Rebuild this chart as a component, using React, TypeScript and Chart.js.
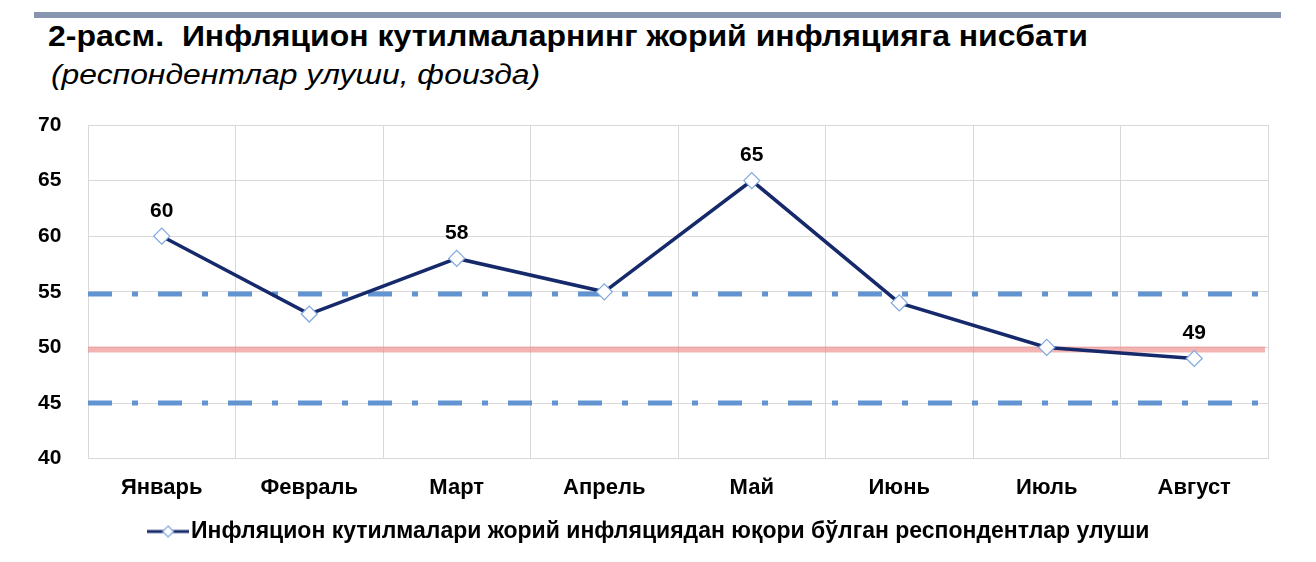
import { Chart, registerables } from "chart.js";
import { useEffect, useRef } from "react";

Chart.register(...registerables);

Chart.defaults.font.family = "'Liberation Sans', Arial, sans-serif";

const months = ["Январь", "Февраль", "Март", "Апрель", "Май", "Июнь", "Июль", "Август"];
const shareAbove = [60, 53, 58, 55, 65, 54, 50, 49];
const labeledIdx = [0, 2, 4, 7];
const yTicks = [40, 45, 50, 55, 60, 65, 70];
const bandLevels = [54.8, 45];
const targetLevel = 49.8;

const seriesName =
  "Инфляцион кутилмалари жорий инфляциядан юқори бўлган респондентлар улуши";

const NAVY = "#15296b";
const MARKER = "#7ea7dc";

// legend swatch: short line with the diamond in the middle
function legendSwatch() {
  const c = document.createElement("canvas");
  c.width = 42;
  c.height = 14;
  const ctx = c.getContext("2d")!;
  ctx.strokeStyle = NAVY;
  ctx.lineWidth = 3;
  ctx.beginPath();
  ctx.moveTo(0, 7);
  ctx.lineTo(42, 7);
  ctx.stroke();
  ctx.fillStyle = "#fff";
  ctx.strokeStyle = MARKER;
  ctx.lineWidth = 1.2;
  ctx.beginPath();
  ctx.moveTo(21, 1.5);
  ctx.lineTo(26.5, 7);
  ctx.lineTo(21, 12.5);
  ctx.lineTo(15.5, 7);
  ctx.closePath();
  ctx.fill();
  ctx.stroke();
  return c;
}

const refLines = {
  id: "refLines",
  beforeDatasetsDraw(chart: Chart) {
    const { ctx, chartArea } = chart;
    const y = chart.scales.y;
    ctx.save();
    // target line
    ctx.strokeStyle = "rgba(240, 140, 140, 0.65)";
    ctx.lineWidth = 6;
    ctx.beginPath();
    const ty = y.getPixelForValue(targetLevel);
    ctx.moveTo(chartArea.left, ty);
    ctx.lineTo(chartArea.right - 3, ty);
    ctx.stroke();
    // band lines, dash-dot
    ctx.strokeStyle = "#6294d2";
    ctx.lineWidth = 5;
    ctx.setLineDash([24, 20, 6, 20]);
    for (const v of bandLevels) {
      const py = y.getPixelForValue(v);
      ctx.beginPath();
      ctx.moveTo(chartArea.left, py);
      ctx.lineTo(chartArea.right, py);
      ctx.stroke();
    }
    ctx.restore();
  },
};

const pointLabels = {
  id: "pointLabels",
  afterDatasetsDraw(chart: Chart) {
    const { ctx } = chart;
    const meta = chart.getDatasetMeta(0);
    ctx.save();
    ctx.font = "bold 21px 'Liberation Sans', Arial, sans-serif";
    ctx.fillStyle = "#000";
    ctx.textAlign = "center";
    ctx.textBaseline = "middle";
    for (const i of labeledIdx) {
      const pt = meta.data[i];
      ctx.fillText(String(shareAbove[i]), pt.x, pt.y - 25);
    }
    ctx.restore();
  },
};

function LineChart() {
  const canvasRef = useRef<HTMLCanvasElement>(null);
  const chartRef = useRef<Chart | null>(null);

  useEffect(() => {
    if (!canvasRef.current) return;
    const swatch = legendSwatch();

    chartRef.current = new Chart(canvasRef.current, {
      type: "line",
      data: {
        labels: months,
        datasets: [
          {
            label: seriesName,
            data: shareAbove,
            borderColor: NAVY,
            borderWidth: 3.5,
            tension: 0,
            pointStyle: "rectRot",
            pointRadius: 8,
            pointBackgroundColor: "#fff",
            pointBorderColor: MARKER,
            pointBorderWidth: 1.2,
          },
        ],
      },
      options: {
        animation: false,
        responsive: true,
        maintainAspectRatio: false,
        layout: {
          padding: { left: 38, right: 48, top: 25, bottom: 9 },
        },
        plugins: {
          tooltip: { enabled: false },
          legend: {
            position: "bottom",
            labels: {
              usePointStyle: true,
              pointStyle: swatch,
              color: "#000",
              font: { size: 23, weight: "bold" },
              padding: 3,
              generateLabels: (chart) => [
                {
                  text: seriesName,
                  pointStyle: swatch,
                  fillStyle: "#fff",
                  strokeStyle: NAVY,
                  lineWidth: 0,
                  datasetIndex: 0,
                  hidden: !chart.isDatasetVisible(0),
                },
              ],
            },
          },
        },
        scales: {
          x: {
            offset: true,
            grid: { color: "#d9d9d9", drawTicks: false, offset: true },
            border: { color: "#d9d9d9" },
            ticks: {
              color: "#000",
              font: { size: 22, weight: "bold" },
              padding: 16,
              maxRotation: 0,
            },
          },
          y: {
            min: 40,
            max: 70,
            afterBuildTicks: (scale) => {
              scale.ticks = yTicks.map((v) => ({ value: v }));
            },
            afterFit: (scale) => {
              scale.width = 50;
            },
            grid: { color: "#d9d9d9", drawTicks: false },
            border: { color: "#d9d9d9" },
            ticks: {
              color: "#000",
              font: { size: 21, weight: "bold" },
              crossAlign: "far",
              padding: 0,
            },
          },
        },
      },
      plugins: [refLines, pointLabels],
    });

    return () => chartRef.current?.destroy();
  }, [canvasRef]);

  return <canvas ref={canvasRef}></canvas>;
}

export default function App() {
  return (
    <div
      style={{
        position: "absolute",
        left: 0,
        top: 0,
        width: 1316,
        height: 562,
        background: "#fff",
        fontFamily: "'Liberation Sans', Arial, sans-serif",
      }}
    >
      <div
        style={{
          position: "absolute",
          left: 34,
          top: 12,
          width: 1247,
          height: 6,
          background: "#8795b0",
        }}
      />
      <div
        style={{
          position: "absolute",
          left: 48,
          top: 20,
          fontSize: 29,
          fontWeight: "bold",
          color: "#000",
          whiteSpace: "pre",
          lineHeight: "32px",
          transform: "scaleX(1.103)",
          transformOrigin: "left top",
        }}
      >
        {"2-расм.  Инфляцион кутилмаларнинг жорий инфляцияга нисбати"}
      </div>
      <div
        style={{
          position: "absolute",
          left: 51,
          top: 59,
          fontSize: 27,
          fontStyle: "italic",
          color: "#000",
          whiteSpace: "pre",
          lineHeight: "32px",
          transform: "scaleX(1.18)",
          transformOrigin: "left top",
        }}
      >
        (респондентлар улуши, фоизда)
      </div>
      <div style={{ position: "absolute", left: 0, top: 100, width: 1316, height: 462 }}>
        <LineChart />
      </div>
    </div>
  );
}
